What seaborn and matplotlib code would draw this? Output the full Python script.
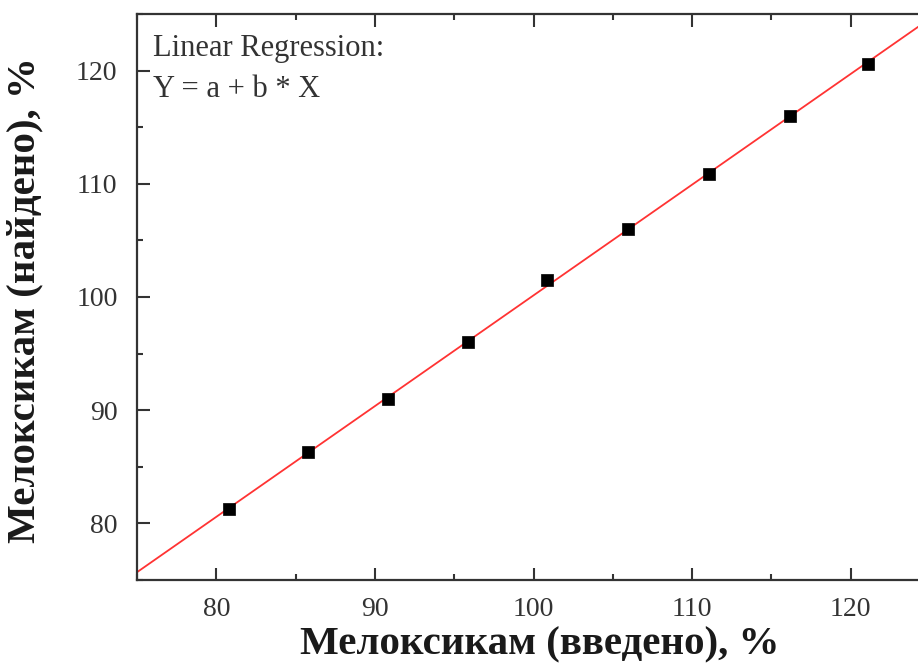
import matplotlib
matplotlib.use("Agg")
import matplotlib.pyplot as plt
import seaborn as sns
import pandas as pd
from matplotlib.ticker import MultipleLocator

# data
x_vals = [80.8, 85.8, 90.8, 95.85, 100.85, 105.95, 111.05, 116.15, 121.1]
y_vals = [81.25, 86.3, 90.95, 96.0, 101.5, 106.0, 110.9, 115.95, 120.6]
x_label = "Мелоксикам (введено), %"
y_label = "Мелоксикам (найдено), %"
note = "Linear Regression:\nY = a + b * X"

df = pd.DataFrame({"x": x_vals, "y": y_vals})

sns.set_style("ticks")
plt.rcParams["font.family"] = ["Liberation Serif", "DejaVu Serif"]

fig = plt.figure(figsize=(9.18, 6.71), dpi=100)
ax = fig.add_axes([137/918, 91/671, (930-137)/918, (580-14)/671])
ax.set_xlim(75, 125)
ax.set_ylim(75, 125)

sns.regplot(data=df, x="x", y="y", ax=ax, ci=None, truncate=False,
            marker="s",
            scatter_kws=dict(s=85, color="black", edgecolor="black", linewidths=0.5, zorder=3, alpha=1),
            line_kws=dict(color="#ff3333", lw=1.3, zorder=2))

ax.set_xlim(75, 125)
ax.set_ylim(75, 125)
ax.xaxis.set_major_locator(MultipleLocator(10))
ax.xaxis.set_minor_locator(MultipleLocator(5))
ax.yaxis.set_major_locator(MultipleLocator(10))
ax.yaxis.set_minor_locator(MultipleLocator(5))
ax.tick_params(which="both", direction="in", top=True, right=True, colors="#333333",
               labelcolor="#333333", labelsize=20, width=1.5)
ax.tick_params(axis="x", pad=12)
ax.tick_params(axis="y", pad=14)
ax.tick_params(which="major", length=9)
ax.tick_params(which="minor", length=4)
for s in ax.spines.values():
    s.set_linewidth(1.6)
    s.set_color("#333333")
    s.set_visible(True)

ax.set_xlabel(x_label, fontsize=29.5, fontweight="bold", color="#1a1a1a")
ax.set_ylabel(y_label, fontsize=29.5, fontweight="bold", color="#1a1a1a")
ax.xaxis.set_label_coords(0.508, -0.082)
ax.yaxis.set_label_coords(-0.118, 0.495)

ax.text(0.02, 0.965, note, transform=ax.transAxes, ha="left", va="top",
        fontsize=22, color="#333333", linespacing=1.55)

fig.savefig("out.png", dpi=100)
